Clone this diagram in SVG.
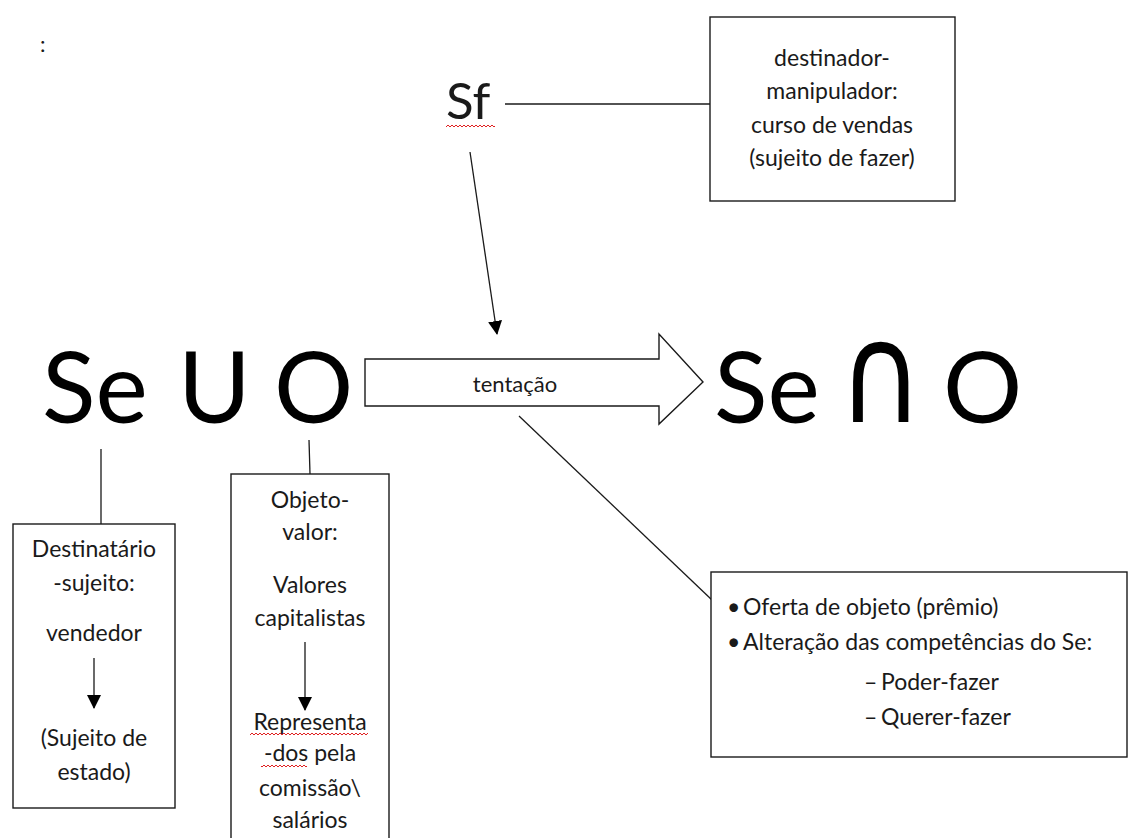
<svg xmlns="http://www.w3.org/2000/svg" width="1128" height="838" viewBox="0 0 1128 838">
<style>
.t{font-family:Lato,"Liberation Sans",sans-serif;fill:#1a1a1a}
.big{font-family:Lato,"Liberation Sans","DejaVu Sans",sans-serif;font-size:99px;fill:#000}
.bx{font-size:23px;text-anchor:middle}
.box{fill:#fff;stroke:#1a1a1a;stroke-width:1.4}
.ln{stroke:#1a1a1a;stroke-width:1.3;fill:none}
.sq{fill:url(#squig)}
</style>
<defs>
<marker id="ah" viewBox="0 0 14 14" refX="13" refY="7" markerWidth="14" markerHeight="14" markerUnits="userSpaceOnUse" orient="auto">
<path d="M0,0 L14,7 L0,14 z" fill="#000"/>
</marker>
<pattern id="squig" x="0" y="0" width="4" height="4" patternUnits="userSpaceOnUse">
<path d="M0,1 L2,3 L4,1" stroke="#e02020" stroke-width="1" fill="none"/>
</pattern>
</defs>
<rect width="1128" height="838" fill="#fff"/>

<text class="t" x="40" y="52" font-size="22" fill="#666">:</text>

<g id="connectors">
<line class="ln" x1="505" y1="104" x2="710" y2="104"/>
<line class="ln" x1="470" y1="152" x2="497" y2="334" marker-end="url(#ah)"/>
<line class="ln" x1="519" y1="416" x2="712" y2="600"/>
<line class="ln" x1="101" y1="449" x2="101" y2="524"/>
<line class="ln" x1="309" y1="440" x2="310" y2="474"/>
</g>

<g id="sf">
<text class="t" x="446" y="119" font-size="51" fill="#000">Sf</text>
<rect class="sq" x="446" y="125" width="49" height="4"/>
</g>

<g id="manipulador">
<rect class="box" x="710" y="17" width="245" height="184"/>
<text class="t bx" x="832" y="66">destinador-</text>
<text class="t bx" x="832" y="99">manipulador:</text>
<text class="t bx" x="832" y="133">curso de vendas</text>
<text class="t bx" x="832" y="166">(sujeito de fazer)</text>
</g>

<g id="estado-inicial">
<text class="big"><tspan x="42" y="423">Se</tspan><tspan x="178" y="423">U</tspan><tspan x="274" y="423">O</tspan></text>
</g>

<g id="tentacao">
<path class="box" d="M365,359 L659,359 L659,334 L703,382 L659,424 L659,406 L365,406 Z"/>
<text class="t" x="515" y="392" font-size="22" text-anchor="middle">tentação</text>
</g>

<g id="estado-final">
<text class="big"><tspan x="714" y="423">Se</tspan><tspan x="943" y="423">O</tspan></text>
<text font-family="'DejaVu Sans',sans-serif" font-size="110" fill="#000" transform="translate(838,422) scale(1.06,1.26)">∩</text>
</g>

<g id="destinatario">
<rect class="box" x="13" y="524" width="162" height="284"/>
<text class="t bx" x="94" y="557">Destinatário</text>
<text class="t bx" x="94" y="591">-sujeito:</text>
<text class="t bx" x="94" y="641">vendedor</text>
<line class="ln" x1="94" y1="658" x2="94" y2="708" marker-end="url(#ah)"/>
<text class="t bx" x="94" y="746">(Sujeito de</text>
<text class="t bx" x="94" y="780">estado)</text>
</g>

<g id="objeto-valor">
<rect class="box" x="231" y="474" width="158" height="380"/>
<text class="t bx" x="310" y="508">Objeto-</text>
<text class="t bx" x="310" y="540">valor:</text>
<text class="t bx" x="310" y="593">Valores</text>
<text class="t bx" x="310" y="626">capitalistas</text>
<line class="ln" x1="305" y1="642" x2="305" y2="710" marker-end="url(#ah)"/>
<text class="t bx" x="310" y="730">Representa</text>
<rect class="sq" x="250" y="732" width="118" height="4"/>
<text class="t bx" x="310" y="761">-dos pela</text>
<rect class="sq" x="261" y="763" width="46" height="4"/>
<text class="t bx" x="310" y="796">comissão\</text>
<text class="t bx" x="310" y="828">salários</text>
</g>

<g id="competencias">
<rect class="box" x="711" y="572" width="416" height="185"/>
<text class="t" font-size="23"><tspan x="727" y="615">•</tspan><tspan x="743" y="615">Oferta de objeto (prêmio)</tspan></text>
<text class="t" font-size="23"><tspan x="727" y="650">•</tspan><tspan x="743" y="650">Alteração das competências do Se:</tspan></text>
<text class="t" font-size="23"><tspan x="864" y="690">–</tspan><tspan x="881" y="690">Poder-fazer</tspan></text>
<text class="t" font-size="23"><tspan x="864" y="725">–</tspan><tspan x="881" y="725">Querer-fazer</tspan></text>
</g>
</svg>
